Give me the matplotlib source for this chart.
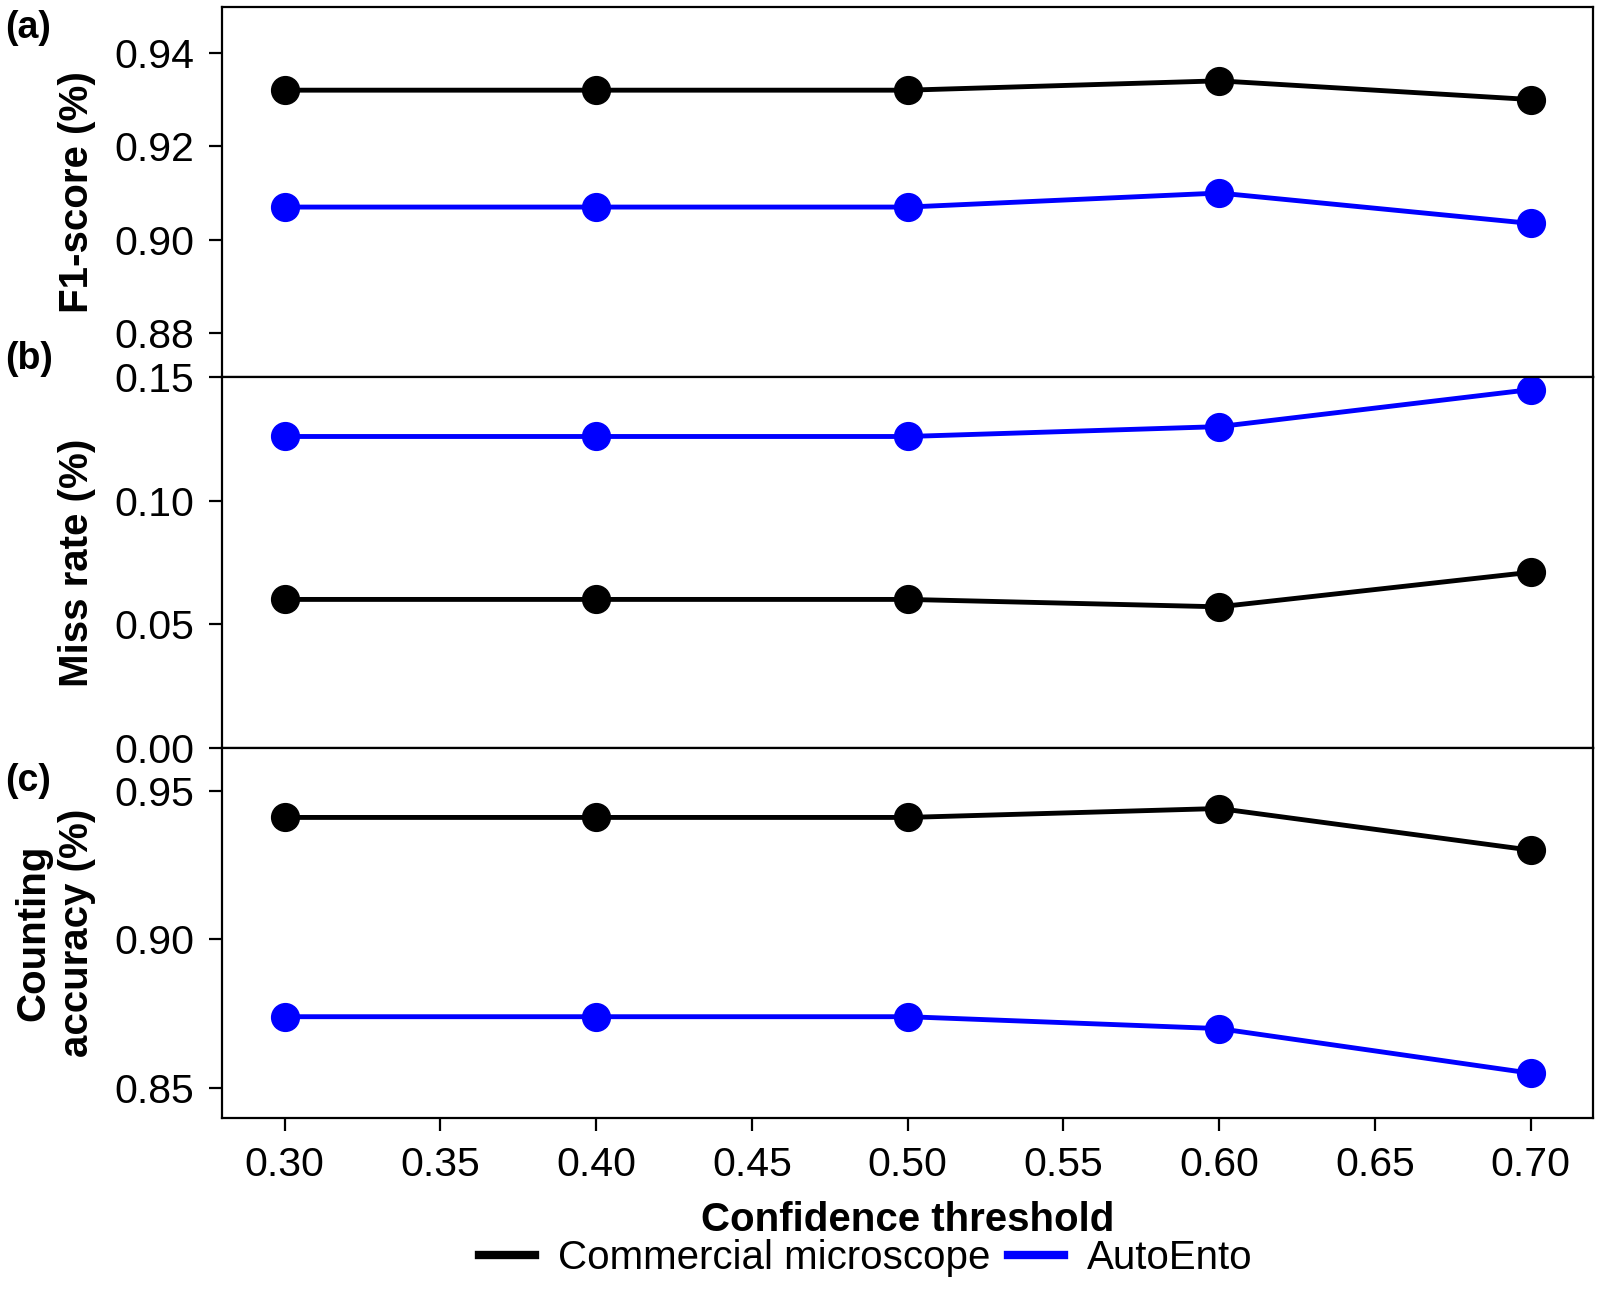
import matplotlib
matplotlib.use("Agg")
import matplotlib.pyplot as plt
from matplotlib.lines import Line2D

# values
thresholds = [0.30, 0.40, 0.50, 0.60, 0.70]
x_ticks = [0.30, 0.35, 0.40, 0.45, 0.50, 0.55, 0.60, 0.65, 0.70]

f1_microscope = [0.932, 0.932, 0.932, 0.934, 0.930]
f1_autoento = [0.907, 0.907, 0.907, 0.910, 0.9035]

miss_microscope = [0.060, 0.060, 0.060, 0.057, 0.071]
miss_autoento = [0.126, 0.126, 0.126, 0.130, 0.145]

count_microscope = [0.941, 0.941, 0.941, 0.944, 0.930]
count_autoento = [0.874, 0.874, 0.874, 0.870, 0.855]

series_names = ["Commercial microscope", "AutoEnto"]
series_colors = ["#000000", "#0000ff"]

panel_labels = ["(a)", "(b)", "(c)"]
y_labels = ["F1-score (%)", "Miss rate (%)", "Counting\naccuracy (%)"]
y_ticks = [[0.88, 0.90, 0.92, 0.94], [0.00, 0.05, 0.10, 0.15], [0.85, 0.90, 0.95]]
y_limits = [(0.8706, 0.9498), (0.0, 0.15), (0.840, 0.9645)]


def main():
    plt.rcParams["font.family"] = ["Liberation Sans", "DejaVu Sans"]
    plt.rcParams["axes.linewidth"] = 1.6

    fig, axes = plt.subplots(3, 1, figsize=(16, 13.12), dpi=100, sharex=True)
    fig.subplots_adjust(left=0.139, right=0.9956, top=0.9947, bottom=0.148, hspace=0)

    panels = [
        (f1_microscope, f1_autoento),
        (miss_microscope, miss_autoento),
        (count_microscope, count_autoento),
    ]

    for i, ax in enumerate(axes):
        for vals, name, color in zip(panels[i], series_names, series_colors):
            ax.plot(thresholds, vals, color=color, lw=3.5, marker="o",
                    markersize=20, label=name)
        ax.set_ylim(*y_limits[i])
        ax.set_yticks(y_ticks[i])
        ax.set_yticklabels([f"{t:.2f}" for t in y_ticks[i]])
        ax.set_ylabel(y_labels[i], fontsize=29, fontweight="bold")
        ax.yaxis.set_label_coords(-0.092, 0.5)
        ax.tick_params(axis="y", direction="out", length=9.5, width=1.6,
                       labelsize=29.5, pad=11)
        ax.tick_params(axis="x", direction="out", length=9.5, width=1.6,
                       labelsize=29.5, pad=11)
        if i < 2:
            ax.tick_params(axis="x", bottom=False, labelbottom=False)

    axes[2].set_xlim(0.28, 0.72)
    axes[2].set_xticks(x_ticks)
    axes[2].set_xticklabels([f"{t:.2f}" for t in x_ticks])
    axes[2].set_xlabel("Confidence threshold", fontsize=29, fontweight="bold",
                       labelpad=12)

    # panel letters
    label_y = [0.979, 0.726, 0.405]
    for lab, yy in zip(panel_labels, label_y):
        fig.text(0.003, yy, lab, fontsize=27, fontweight="bold", va="center")

    handles = [Line2D([], [], color=c, lw=6) for c in series_colors]
    fig.legend(handles, series_names, loc="center", ncol=2,
               bbox_to_anchor=(0.541, 0.041), frameon=False, fontsize=29,
               handlelength=1.4, handletextpad=0.55, columnspacing=0.45)

    fig.savefig("out.png", dpi=100)
    plt.close(fig)


if __name__ == "__main__":
    main()
